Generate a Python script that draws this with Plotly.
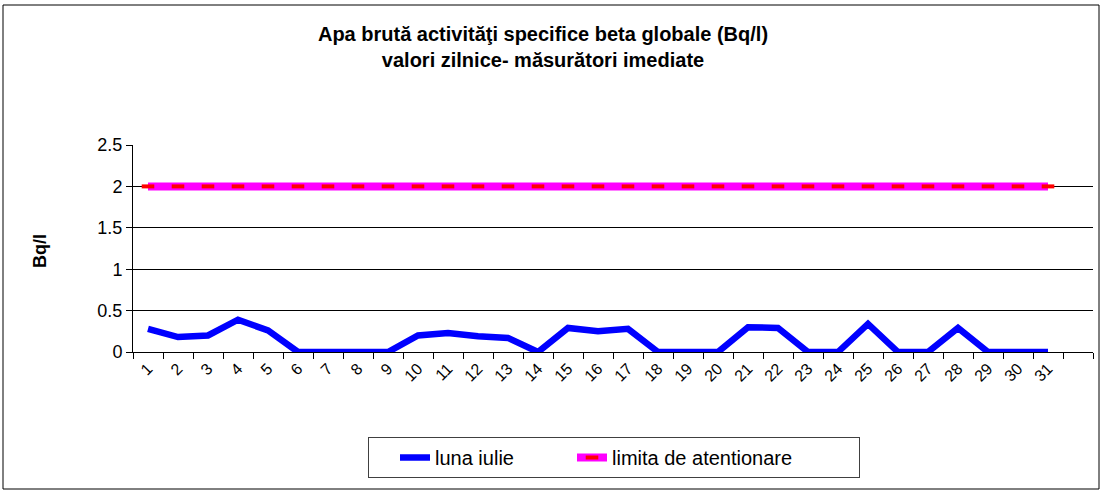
import plotly.graph_objects as go

days = list(range(1, 32))
day_labels = [str(d) for d in days]
luna_iulie = [0.28, 0.18, 0.20, 0.39, 0.26, 0, 0, 0, 0, 0.20, 0.23, 0.19, 0.17, 0,
              0.29, 0.25, 0.28, 0, 0, 0, 0.30, 0.29, 0, 0, 0.34, 0, 0, 0.29, 0, 0, 0]
limita = [2] * 31
boundaries = [d - 0.5 for d in range(1, 34)]

W, H = 1102, 491
L, R, T, B = 133, 9, 145, 139
pw, ph = W - L - R, H - T - B

def px(x):
    return (x - L) / pw

def py(y):
    return (H - B - y) / ph

FONT = "Arial, Liberation Sans, sans-serif"

fig = go.Figure()
fig.add_trace(go.Scatter(x=days, y=luna_iulie, mode="lines", name="luna iulie",
                         line=dict(color="#0000FF", width=6.5), legendwidth=106))
fig.add_trace(go.Scatter(x=days, y=limita, mode="lines+markers", name="limita de atentionare",
                         line=dict(color="#FF00FF", width=8), legendwidth=242,
                         marker=dict(symbol="line-ew", size=9, color="#FF0000",
                                     line=dict(color="#FF0000", width=4))))
# invisible trace to carry the boundary tick axis
fig.add_trace(go.Scatter(x=boundaries, y=[None] * len(boundaries), xaxis="x2",
                         showlegend=False, hoverinfo="skip"))

fig.update_layout(
    width=W, height=H,
    margin=dict(l=L, r=R, t=T, b=B, autoexpand=False),
    paper_bgcolor="white", plot_bgcolor="white",
    font=dict(family=FONT, color="black"),
    title=dict(text="<b>Apa brută activităţi specifice beta globale (Bq/l)<br>valori zilnice- măsurători imediate</b>",
               x=543 / W, xref="container", xanchor="center",
               y=1 - 41 / H, yref="container", yanchor="top",
               font=dict(size=20, family=FONT)),
    xaxis=dict(range=[0.5, 32.5], tickmode="array", tickvals=days, ticktext=day_labels,
               tickangle=-45, ticks="", showgrid=False, zeroline=False,
               showline=True, linecolor="black", linewidth=1,
               tickfont=dict(size=16), automargin=False, fixedrange=True),
    xaxis2=dict(range=[0.5, 32.5], overlaying="x", side="bottom", anchor="y",
                tickmode="array", tickvals=boundaries, showticklabels=False,
                ticks="outside", ticklen=6, tickcolor="black", tickwidth=1,
                showgrid=False, zeroline=False, showline=False, automargin=False),
    yaxis=dict(range=[0, 2.5], tickmode="array", tickvals=[0, 0.5, 1, 1.5, 2, 2.5],
               ticktext=["0", "0.5", "1", "1.5", "2", "2.5"],
               ticks="outside", ticklen=6, tickcolor="black",
               showgrid=True, gridcolor="black", gridwidth=1, zeroline=False,
               showline=True, linecolor="black", linewidth=1,
               tickfont=dict(size=18), automargin=False),
    legend=dict(orientation="h", x=px(368), xanchor="left", y=py(437), yanchor="top",
                bordercolor="#404040", borderwidth=1, font=dict(size=20),
                itemwidth=30, indentation=26, bgcolor="white", traceorder="normal"),
    showlegend=True,
)

fig.add_annotation(text="<b>Bq/l</b>", xref="paper", yref="paper",
                   x=px(40), y=py(251), xanchor="center", yanchor="middle",
                   textangle=-90, showarrow=False, font=dict(size=18, family=FONT))

fig.add_shape(type="rect", xref="paper", yref="paper",
              x0=px(3), x1=px(1099), y0=py(489), y1=py(5),
              line=dict(color="black", width=1), fillcolor="rgba(0,0,0,0)", layer="below")

fig.write_html("out.html", config={"displayModeBar": False},
               post_script="document.body.style.margin='0';document.body.style.overflow='hidden';")
